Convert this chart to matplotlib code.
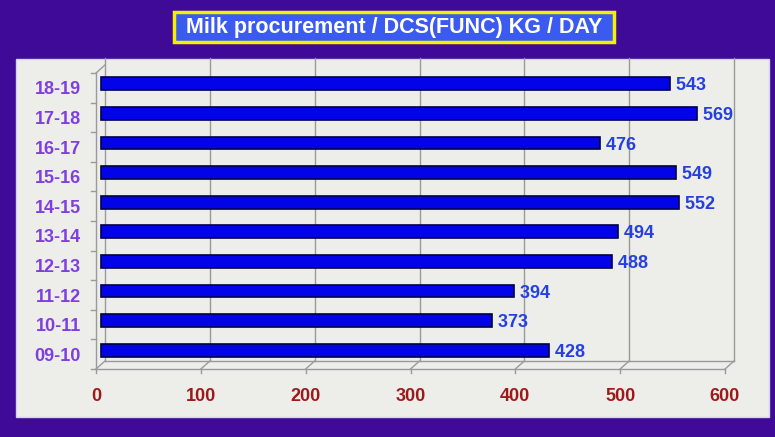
import matplotlib
matplotlib.use("Agg")
import matplotlib.pyplot as plt
from matplotlib.patches import Rectangle
from matplotlib import transforms

categories = ["09-10", "10-11", "11-12", "12-13", "13-14", "14-15", "15-16", "16-17", "17-18", "18-19"]
values = [428, 373, 394, 488, 494, 552, 549, 476, 569, 543]
xticks = [0, 100, 200, 300, 400, 500, 600]
title = "Milk procurement / DCS(FUNC) KG / DAY"

W, H = 775, 437
plt.rcParams['font.family'] = ['Liberation Sans', 'DejaVu Sans']
fig = plt.figure(figsize=(W / 100, H / 100), dpi=100, facecolor='#3E0A97')

def fx(px):
    return px / W

def fy(py):
    return (H - py) / H

# light panel
fig.patches.append(Rectangle((fx(16), fy(417)), fx(769) - fx(16), fy(59) - fy(417),
                             transform=fig.transFigure, facecolor='#EDEDE9',
                             edgecolor='#D8D0F0', lw=1, zorder=-2))
# title box
fig.patches.append(Rectangle((fx(174), fy(42)), fx(614) - fx(174), fy(12) - fy(42),
                             transform=fig.transFigure, facecolor='#3A5AF0',
                             edgecolor='#F5F000', lw=2.5, zorder=-1))
fig.text(fx(394), fy(27.5), title, ha='center', va='center', color='white',
         fontsize=15.5, fontweight='bold', zorder=2)

# axes in the front plane
ax = fig.add_axes([fx(96), fy(369), fx(725) - fx(96), fy(73) - fy(369)])
ax.set_zorder(1)
ax.set_facecolor('none')
for s in ax.spines.values():
    s.set_visible(False)
ax.set_xlim(0, 600)
ax.set_ylim(-0.5, len(categories) - 0.5)

DX, DY = 9, 8
back = transforms.offset_copy(ax.transData, fig=fig, x=DX, y=DY, units='dots')
mid = transforms.offset_copy(ax.transData, fig=fig, x=DX / 2, y=DY / 2, units='dots')
gcol = '#9A9A9A'
ylo, yhi = -0.5, len(categories) - 0.5

# back wall gridlines
for t in xticks:
    ax.plot([t, t], [ylo, yhi + 0.25], color=gcol, lw=1, transform=back, clip_on=False)
# back floor line
ax.plot([0, 600], [ylo, ylo], color=gcol, lw=1, transform=back, clip_on=False)
# front floor line
ax.plot([0, 600], [ylo, ylo], color=gcol, lw=1, clip_on=False)
inv = ax.transData.inverted()
# floor diagonals and ticks
for t in xticks:
    p0 = ax.transData.transform((t, ylo))
    a = inv.transform(p0)
    b = inv.transform((p0[0] + DX, p0[1] + DY))
    ax.plot([a[0], b[0]], [a[1], b[1]], color=gcol, lw=1, clip_on=False)
    c = inv.transform((p0[0], p0[1] - 4))
    ax.plot([a[0], c[0]], [a[1], c[1]], color=gcol, lw=1, clip_on=False)
# left wall front line and top diagonal
ax.plot([0, 0], [ylo, yhi], color=gcol, lw=1, clip_on=False)
ptop = ax.transData.transform((0, yhi))
tb = inv.transform((ptop[0] + DX, ptop[1] + DY))
ax.plot([0, tb[0]], [yhi, tb[1]], color=gcol, lw=1, clip_on=False)
# y ticks at category boundaries
for k in range(len(categories) + 1):
    y = k - 0.5
    p = ax.transData.transform((0, y))
    q = inv.transform((p[0] - 5, p[1]))
    ax.plot([q[0], 0], [y, y], color=gcol, lw=1, clip_on=False)

# bars (mid depth)
ypos = list(range(len(categories)))
ax.barh(ypos, values, height=0.43, color='#0303E8', edgecolor='#00004A', lw=1.2,
        transform=mid, zorder=3)
lab_tr = transforms.offset_copy(ax.transData, fig=fig, x=DX / 2 + 1, y=DY / 2 - 2, units='dots')
for y, v in zip(ypos, values):
    ax.text(v, y, f" {v}", transform=lab_tr,
            ha='left', va='center', color='#2440E0', fontsize=13, fontweight='bold', zorder=5)

# tick labels
ax.set_xticks(xticks)
ax.set_xticklabels([str(t) for t in xticks], color='#9E1A1A', fontsize=13, fontweight='bold')
ax.set_yticks(ypos)
ax.set_yticklabels(categories, color='#7F3FE0', fontsize=13, fontweight='bold')
ax.tick_params(axis='x', length=0, pad=14)
ax.tick_params(axis='y', length=0, pad=11)

fig.savefig('out.png', dpi=100, facecolor=fig.get_facecolor())
